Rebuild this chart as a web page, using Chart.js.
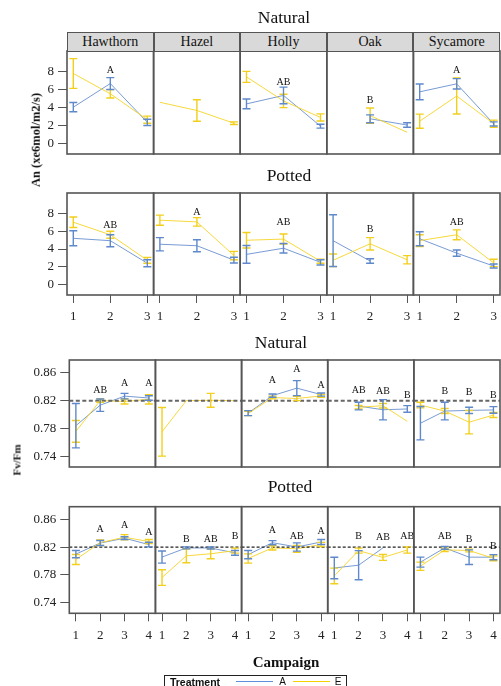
<!DOCTYPE html>
<html><head><meta charset="utf-8">
<script src="https://cdn.jsdelivr.net/npm/chart.js@4.4.1/dist/chart.umd.min.js"></script>
<style>
html,body{margin:0;padding:0;background:#fff;}
body{width:501px;height:686px;overflow:hidden;position:relative;}
.t{position:absolute;transform:translate(-50%,-50%);white-space:nowrap;font-family:"Liberation Serif","Times New Roman",serif;color:#111;line-height:1;}
canvas{position:absolute;}
.strip{position:absolute;box-sizing:border-box;background:#d9d9d9;border:1.5px solid #555;font-family:"Liberation Serif",serif;font-size:14px;text-align:center;color:#111;}
.lgline{position:absolute;height:0;width:37px;}
</style></head><body>
<div id="root"></div>
<script>
// ---------------- DATA ----------------
const trees = ["Hawthorn", "Hazel", "Holly", "Oak", "Sycamore"];
const anCampaigns = [1, 2, 3];
const fvCampaigns = [1, 2, 3, 4];
const anTicks = [0, 2, 4, 6, 8];
const fvTicks = [0.74, 0.78, 0.82, 0.86];
const fvReference = 0.82;
const rowTitles = ["Natural", "Potted", "Natural", "Potted"];
const treatments = ["A", "E"];

// An, Natural (rows = trees, columns = campaigns)
const anNatA   = [[4.05, 6.7, 2.35], [null, null, null], [4.42, 5.37, 1.92], [null, 2.75, 2.05], [5.77, 6.67, 2.17]];
const anNatAse = [[0.52, 0.66, 0.35], [null, null, null], [0.55, 0.93, 0.22], [null, 0.44, 0.25], [0.88, 0.58, 0.23]];
const anNatE   = [[7.83, 5.55, 2.65], [4.6, 3.68, 2.25], [7.45, 4.75, 2.9], [null, 3.1, 1.24], [2.48, 5.3, 2.2]];
const anNatEse = [[1.67, 0.47, 0.4], [null, 1.2, 0.15], [0.62, 0.75, 0.4], [null, 0.85, null], [0.79, 2.02, 0.4]];
const anNatLetters = [[null, "A", null], [null, null, null], [null, "AB", null], [null, "B", null], [null, "A", null]];
const anNatLetterY = [[null, 8.18, null], [null, null, null], [null, 6.87, null], [null, 4.8, null], [null, 8.18, null]];

// An, Potted
const anPotA   = [[5.22, 4.95, 2.4], [4.55, 4.38, 2.75], [3.4, 4.1, 2.5], [4.95, 2.65, null], [5.17, 3.54, 2.08]];
const anPotAse = [[0.85, 0.68, 0.4], [0.75, 0.68, 0.33], [1.0, 0.54, 0.3], [2.93, 0.25, null], [0.79, 0.36, 0.23]];
const anPotE   = [[7.04, 5.62, 2.73], [7.27, 7.08, 3.27], [5.0, 5.13, 2.62], [2.73, 4.6, 2.79], [4.96, 5.62, 2.43]];
const anPotEse = [[0.6, 0.4, 0.33], [0.57, 0.48, 0.47], [0.88, 0.57, 0.23], [0.72, 0.7, 0.47], [0.66, 0.56, 0.42]];
const anPotLetters = [[null, "AB", null], [null, "A", null], [null, "AB", null], [null, "B", null], [null, "AB", null]];
const anPotLetterY = [[null, 6.63, null], [null, 8.12, null], [null, 7.08, null], [null, 6.18, null], [null, 7.08, null]];

// Fv/Fm, Natural
const fvNatA   = [[0.784, 0.8135, 0.8265, 0.8238], [null, null, null, null], [0.802, 0.8272, 0.838, 0.8287], [null, 0.8122, 0.8069, 0.808], [0.7875, 0.805, 0.806, 0.8066]];
const fvNatAse = [[0.032, 0.0089, 0.004, 0.0033], [null, null, null, null], [0.0036, 0.0023, 0.0108, 0.0022], [null, 0.0055, 0.0146, 0.0048], [0.024, 0.0127, 0.0044, 0.0048]];
const fvNatE   = [[0.7758, 0.82, 0.8188, 0.8219], [0.7752, 0.82, 0.8205, 0.82], [0.8015, 0.8245, 0.8231, 0.8268], [null, 0.8105, 0.8127, 0.7903], [0.8136, 0.805, 0.789, 0.7993]];
const fvNatEse = [[0.0156, 0.0024, 0.0036, 0.0067], [0.035, null, 0.01, null], [0.003, 0.002, 0.0031, 0.002], [null, 0.0025, 0.0032, null], [0.004, 0.0036, 0.0168, 0.0036]];
const fvNatLetters = [[null, "AB", "A", "A"], [null, null, null, null], [null, "A", "A", "A"], [null, "AB", "AB", "B"], [null, "B", "B", "B"]];
const fvNatLetterY = [[null, 0.8353, 0.8448, 0.8448], [null, null, null, null], [null, 0.8487, 0.8645, 0.8415], [null, 0.8353, 0.8333, 0.8272], [null, 0.8329, 0.8319, 0.8272]];

// Fv/Fm, Potted
const fvPotA   = [[0.81, 0.826, 0.833, 0.8238], [0.8057, 0.819, 0.8188, 0.8118], [0.8093, 0.8265, 0.8203, 0.8275], [0.79, 0.794, 0.819, null], [0.7984, 0.819, 0.8056, 0.8056]];
const fvPotAse = [[0.0053, 0.0036, 0.002, 0.0033], [0.0087, 0.0015, 0.0015, 0.0034], [0.006, 0.003, 0.006, 0.0036], [0.0155, 0.021, null, null], [0.0072, 0.002, 0.0105, 0.0037]];
const fvPotE   = [[0.8023, 0.8265, 0.8344, 0.8282], [0.7762, 0.8075, 0.8105, 0.815], [0.8037, 0.819, 0.8177, 0.8239], [0.7785, 0.815, 0.8052, 0.816], [0.7925, 0.8162, 0.8152, 0.804]];
const fvPotEse = [[0.0072, 0.004, 0.0038, 0.003], [0.0113, 0.01, 0.0072, 0.0036], [0.0067, 0.003, 0.005, 0.003], [0.0113, 0.0036, 0.0043, 0.0045], [0.006, 0.0025, 0.002, 0.0035]];
const fvPotLetters = [[null, "A", "A", "A"], [null, "B", "AB", "B"], [null, "A", "AB", "A"], [null, "B", "AB", "AB"], [null, "AB", "B", "B"]];
const fvPotLetterY = [[null, 0.8455, 0.8522, 0.8416], [null, 0.8311, 0.8311, 0.8358], [null, 0.844, 0.8358, 0.843], [null, 0.8354, 0.8344, 0.8354], [null, 0.8358, 0.8306, 0.8214]];

// ---------------- STYLE / LAYOUT ----------------
const COLORS = {
  A: {line: "rgba(96,138,205,0.85)", bar: "#5f89cb", legend: "#5f8fd8"},
  E: {line: "rgba(246,212,40,0.9)", bar: "#f2cf1c", legend: "#f6d000"}
};
const SERIF = '"Liberation Serif", "Times New Roman", serif';

const rows = [
  {A: anNatA, Ase: anNatAse, E: anNatE, Ese: anNatEse, letters: anNatLetters, letterY: anNatLetterY, xv: anCampaigns, yt: anTicks, ref: null,
   top: 51, bottom: 154, left: 67, width: 86.6, ymin: -1.2, ymax: 10.35, xmin: 0.83, xmax: 3.17, xAxis: false, fmt: v => String(v)},
  {A: anPotA, Ase: anPotAse, E: anPotE, Ese: anPotEse, letters: anPotLetters, letterY: anPotLetterY, xv: anCampaigns, yt: anTicks, ref: null,
   top: 193, bottom: 295, left: 67, width: 86.6, ymin: -1.2, ymax: 10.35, xmin: 0.83, xmax: 3.17, xAxis: true, fmt: v => String(v)},
  {A: fvNatA, Ase: fvNatAse, E: fvNatE, Ese: fvNatEse, letters: fvNatLetters, letterY: fvNatLetterY, xv: fvCampaigns, yt: fvTicks, ref: fvReference,
   refColor: "#666", refWidth: 2, refDash: [4, 2.5],
   top: 360, bottom: 467, left: 69.3, width: 86.14, ymin: 0.7245, ymax: 0.8785, xmin: 0.73, xmax: 4.27, xAxis: false, fmt: v => v.toFixed(2)},
  {A: fvPotA, Ase: fvPotAse, E: fvPotE, Ese: fvPotEse, letters: fvPotLetters, letterY: fvPotLetterY, xv: fvCampaigns, yt: fvTicks, ref: fvReference,
   refColor: "#222", refWidth: 1.3, refDash: [3, 2],
   top: 506.7, bottom: 613.3, left: 69.3, width: 86.14, ymin: 0.7245, ymax: 0.8785, xmin: 0.73, xmax: 4.27, xAxis: true, fmt: v => v.toFixed(2)}
];

const panelInfo = {};

const panelPlugin = {
  id: "panelDecor",
  afterDatasetsDraw(chart) {
    const o = panelInfo[chart.canvas.id];
    const ctx = chart.ctx, ca = chart.chartArea;
    const xs = chart.scales.x, ys = chart.scales.y;
    ctx.save();
    ctx.beginPath();
    ctx.rect(ca.left, ca.top, ca.right - ca.left, ca.bottom - ca.top);
    ctx.clip();
    if (o.ref != null) {
      const yy = ys.getPixelForValue(o.ref);
      ctx.setLineDash(o.refDash);
      ctx.strokeStyle = o.refColor;
      ctx.lineWidth = o.refWidth;
      ctx.beginPath(); ctx.moveTo(ca.left, yy); ctx.lineTo(ca.right, yy); ctx.stroke();
      ctx.setLineDash([]);
    }
    chart.data.datasets.forEach(ds => {
      ctx.strokeStyle = ds.barColor;
      ctx.lineWidth = 1.4;
      ds.data.forEach(p => {
        if (p.y == null || p.se == null) return;
        const px = xs.getPixelForValue(p.x);
        const a = ys.getPixelForValue(p.y + p.se), b = ys.getPixelForValue(p.y - p.se);
        ctx.beginPath();
        ctx.moveTo(px, a); ctx.lineTo(px, b);
        ctx.moveTo(px - 4, a); ctx.lineTo(px + 4, a);
        ctx.moveTo(px - 4, b); ctx.lineTo(px + 4, b);
        ctx.stroke();
      });
    });
    ctx.font = "10px " + SERIF;
    ctx.fillStyle = "#111";
    ctx.textAlign = "center";
    ctx.textBaseline = "middle";
    o.letters.forEach((l, i) => {
      if (!l) return;
      ctx.fillText(l, xs.getPixelForValue(o.xv[i]), ys.getPixelForValue(o.letterY[i]));
    });
    ctx.restore();
    ctx.save();
    ctx.strokeStyle = "#555";
    ctx.lineWidth = 1.6;
    ctx.strokeRect(ca.left, ca.top, ca.right - ca.left, ca.bottom - ca.top);
    ctx.restore();
  }
};

const root = document.getElementById("root");

function addText(txt, x, y, css) {
  const d = document.createElement("div");
  d.className = "t";
  d.textContent = txt;
  d.style.left = x + "px";
  d.style.top = y + "px";
  Object.assign(d.style, css || {});
  root.appendChild(d);
}

rows.forEach((R, ri) => {
  trees.forEach((tree, ci) => {
    const pl = R.left + ci * R.width, pr = pl + R.width;
    const cl = ci === 0 ? 0 : Math.floor(pl) - 3;
    const cr = Math.ceil(pr) + 3;
    const ct = Math.floor(R.top) - 3;
    const cb = R.xAxis ? Math.ceil(R.bottom) + 32 : Math.ceil(R.bottom) + 3;
    const cv = document.createElement("canvas");
    cv.id = "p" + ri + "_" + ci;
    cv.width = cr - cl; cv.height = cb - ct;
    cv.style.left = cl + "px"; cv.style.top = ct + "px";
    cv.style.width = (cr - cl) + "px"; cv.style.height = (cb - ct) + "px";
    root.appendChild(cv);
    panelInfo[cv.id] = {ref: R.ref, refColor: R.refColor, refWidth: R.refWidth, refDash: R.refDash,
                        letters: R.letters[ci], letterY: R.letterY[ci], xv: R.xv};
    const mk = (key, mean, se) => ({
      label: key,
      data: R.xv.map((c, i) => ({x: c, y: mean[ci][i], se: se[ci][i]})),
      borderColor: COLORS[key].line,
      barColor: COLORS[key].bar,
      borderWidth: 1,
      pointRadius: 0, pointHoverRadius: 0, pointHitRadius: 0,
      tension: 0, fill: false, spanGaps: false
    });
    const showY = ci === 0;
    const zeroPad = s => { s.paddingLeft = 0; s.paddingRight = 0; s.paddingTop = 0; s.paddingBottom = 0; };
    new Chart(cv, {
      type: "line",
      data: {datasets: [mk("E", R.E, R.Ese), mk("A", R.A, R.Ase)]},
      options: {
        responsive: false, animation: false, events: [],
        layout: {autoPadding: false, padding: {
          left: showY ? 0 : pl - cl,
          right: cr - pr,
          top: R.top - ct,
          bottom: R.xAxis ? 0 : cb - R.bottom
        }},
        plugins: {legend: {display: false}, tooltip: {enabled: false}},
        scales: {
          x: {
            type: "linear", min: R.xmin, max: R.xmax, display: R.xAxis,
            afterBuildTicks: s => { s.ticks = R.xv.map(v => ({value: v})); },
            afterFit: s => { if (R.xAxis) { s.height = cb - R.bottom; } else { s.height = 0; } zeroPad(s); },
            ticks: {callback: v => String(v), color: "#222", padding: 6, maxRotation: 0, autoSkip: false,
                    font: {family: SERIF, size: 13}},
            grid: {drawOnChartArea: false, drawTicks: true, tickLength: 8, color: "#555", lineWidth: 1},
            border: {display: false}
          },
          y: {
            type: "linear", min: R.ymin, max: R.ymax, display: showY,
            afterBuildTicks: s => { s.ticks = R.yt.map(v => ({value: v})); },
            afterFit: s => { s.width = showY ? pl : 0; zeroPad(s); },
            ticks: {callback: v => R.fmt(v), color: "#222", padding: 4, autoSkip: false,
                    font: {family: SERIF, size: 13}},
            grid: {drawOnChartArea: false, drawTicks: true, tickLength: 9, color: "#555", lineWidth: 1},
            border: {display: false}
          }
        }
      },
      plugins: [panelPlugin]
    });
  });
});

// strips (first row only)
trees.forEach((tree, ci) => {
  const R = rows[0];
  const d = document.createElement("div");
  d.className = "strip";
  d.style.left = (R.left + ci * R.width) + "px";
  d.style.top = "32px";
  d.style.width = R.width + "px";
  d.style.height = "19.5px";
  d.style.lineHeight = "17px";
  d.textContent = tree;
  root.appendChild(d);
});

// titles
addText(rowTitles[0], 284, 18, {fontSize: "17.5px"});
addText(rowTitles[1], 289, 176, {fontSize: "17.5px"});
addText(rowTitles[2], 281, 343, {fontSize: "17.5px"});
addText(rowTitles[3], 290, 487, {fontSize: "17.5px"});
addText("An (xe6mol/m2/s)", 36, 140, {fontSize: "12.5px", fontWeight: "bold", transform: "translate(-50%,-50%) rotate(-90deg)"});
addText("Fv/Fm", 17, 460, {fontSize: "11px", fontWeight: "bold", transform: "translate(-50%,-50%) rotate(-90deg)"});
addText("Campaign", 286, 662, {fontSize: "15px", fontWeight: "bold"});

// legend
const lg = document.createElement("div");
Object.assign(lg.style, {position: "absolute", left: "164px", top: "675px", width: "183px", height: "20px",
  border: "1px solid #222", boxSizing: "border-box"});
root.appendChild(lg);
addText("Treatment", 195, 681.5, {fontSize: "10.5px", fontWeight: "bold", fontFamily: '"Liberation Sans", Arial, sans-serif'});
[["A", 236, 282.7], ["E", 293, 338]].forEach(([k, x0, xt]) => {
  const ln = document.createElement("div");
  ln.className = "lgline";
  ln.style.left = x0 + "px";
  ln.style.top = "681px";
  ln.style.borderTop = "1.5px solid " + COLORS[k].legend;
  root.appendChild(ln);
  addText(k, xt, 681.5, {fontSize: "10px", fontFamily: '"Liberation Sans", Arial, sans-serif'});
});
</script>
</body></html>
